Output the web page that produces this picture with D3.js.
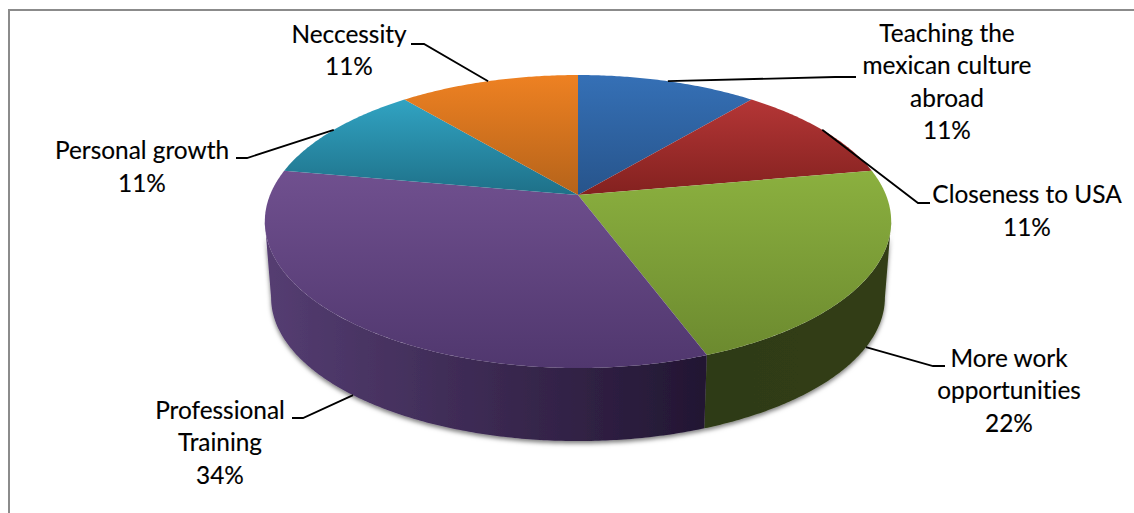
<!DOCTYPE html>
<html>
<head>
<meta charset="utf-8">
<script src="https://d3js.org/d3.v7.min.js"></script>
<style>
html,body{margin:0;padding:0;background:#fff;overflow:hidden}
svg{display:block}
text{font-family:Lato,"Open Sans",sans-serif;fill:#000;font-variant-ligatures:none;stroke:#000;stroke-width:0.15px}
</style>
</head>
<body>
<svg id="chart" width="1134" height="513"></svg>
<script>
// ---- data ----
const categories = ["Teaching the mexican culture abroad","Closeness to USA","More work opportunities","Professional Training","Personal growth","Neccessity"];
const shares = [11.1,11.1,22.2,33.5,11.1,11.1];
const labelLines = [["Teaching the","mexican culture","abroad"],["Closeness to USA"],["More work","opportunities"],["Professional","Training"],["Personal growth"],["Neccessity"]];
const topColors = [["#3570b6","#27548b"],["#b43636","#83211f"],["#8bb03f","#6c8a2f"],["#70508f","#50376e"],["#31a3c2","#1e7088"],["#ee8122","#b5631a"]];
const sideColors = [null,null,["#2e3a14","#323e16"],["#553d72","#221632"],null,null];

// ---- layout (not data) ----
const W=1134,H=513;
const cx=578,cy=195,Rx=308,Ry=141.7,k=0.181,depth=76.5,shrink=0.98;
const fontSize=24.4;
const lineGap=32.6;
const labelLayout=[
 {x:947,y:41.5,leader:[[835,77],[856,77]],rim:0},
 {x:1027,y:203,leader:[[918,203],[930,203]],rim:0},
 {x:1009,y:366.5,leader:[[933,366],[945,366]],rim:1},
 {x:220,y:418.5,leader:[[303,418],[292,418]],rim:1},
 {x:142,y:159,leader:[[247,158],[236,158]],rim:0},
 {x:349,y:42.5,leader:[[424,44],[411,44]],rim:0}
];

const svg=d3.select("#chart");
const defs=svg.append("defs");
const xScale=d3.scaleLinear().domain([-1,1]).range([cx-Rx,cx+Rx]);
const yScale=d3.scaleLinear().domain([-1,1]).range([cy-Ry,cy+Ry]);
const pie=d3.pie().sort(null).value(d=>d)(shares);

// perspective projection of an angle on the pie's circle
function project(theta,r=1,low=0){
  const u=r*Math.sin(theta), v=-r*Math.cos(theta), w=1-k*v;
  const s=low?shrink:1;
  const x=cx+(xScale(u/w)-cx)*s;
  const y=cy+(yScale(v/w)-cy)*s+(low?depth:0);
  return [x,y];
}
const line=d3.line();
const arcPts=(a0,a1,low)=>{
  const n=Math.max(4,Math.ceil((a1-a0)/0.01));
  return d3.range(n+1).map(i=>project(a0+(a1-a0)*i/n,1,low));
};

// frame
svg.append("path").attr("d",line([[W,10],[9,10],[9,H]])).attr("fill","none").attr("stroke","#8b8b8b").attr("stroke-width",2);

// shadow
const f=defs.append("filter").attr("id","shadow").attr("x","-5%").attr("y","-5%").attr("width","110%").attr("height","115%");
f.append("feDropShadow").attr("dx",0).attr("dy",2.5).attr("stdDeviation",2.2).attr("flood-color","#000").attr("flood-opacity",0.5);

// visible rim range: 90deg + asin(k) on each side
const visA=Math.PI/2+Math.asin(k);
const visB=2*Math.PI-visA;

const side=svg.append("g").attr("filter","url(#shadow)");
pie.forEach((p,i)=>{
  const a0=Math.max(p.startAngle,visA),a1=Math.min(p.endAngle,visB);
  if(a1<=a0||!sideColors[i])return;
  const top=arcPts(a0,a1,0),bot=arcPts(a0,a1,1).reverse();
  const g=defs.append("linearGradient").attr("id","side"+i).attr("gradientUnits","userSpaceOnUse")
    .attr("x1",d3.min(top,d=>d[0])).attr("x2",d3.max(top,d=>d[0])).attr("y1",0).attr("y2",0);
  g.append("stop").attr("offset",0).attr("stop-color",sideColors[i][0]);
  g.append("stop").attr("offset",1).attr("stop-color",sideColors[i][1]);
  side.append("path").attr("d",line(top.concat(bot))+"Z").attr("fill",`url(#side${i})`);
});

// top slices
pie.forEach((p,i)=>{
  const pts=arcPts(p.startAngle,p.endAngle,0);
  const all=[[cx,cy]].concat(pts);
  const g=defs.append("linearGradient").attr("id","top"+i).attr("gradientUnits","userSpaceOnUse")
    .attr("x1",0).attr("x2",0).attr("y1",d3.min(all,d=>d[1])).attr("y2",d3.max(all,d=>d[1]));
  g.append("stop").attr("offset",0).attr("stop-color",topColors[i][0]);
  g.append("stop").attr("offset",1).attr("stop-color",topColors[i][1]);
  svg.append("path").attr("d",line(all)+"Z").attr("fill",`url(#top${i})`);
});

// leaders
pie.forEach((p,i)=>{
  const L=labelLayout[i];
  const start=project((p.startAngle+p.endAngle)/2,1,L.rim);
  svg.append("path").attr("d",line([start].concat(L.leader))).attr("fill","none").attr("stroke","#000").attr("stroke-width",1.8);
});

// labels
categories.forEach((c,i)=>{
  const L=labelLayout[i];
  const lines=labelLines[i].concat([Math.round(shares[i])+"%"]);
  const t=svg.append("text").attr("text-anchor","middle").attr("font-size",fontSize);
  lines.forEach((s,j)=>t.append("tspan").attr("x",L.x).attr("y",L.y+j*lineGap).text(s));
});
</script>
</body>
</html>
